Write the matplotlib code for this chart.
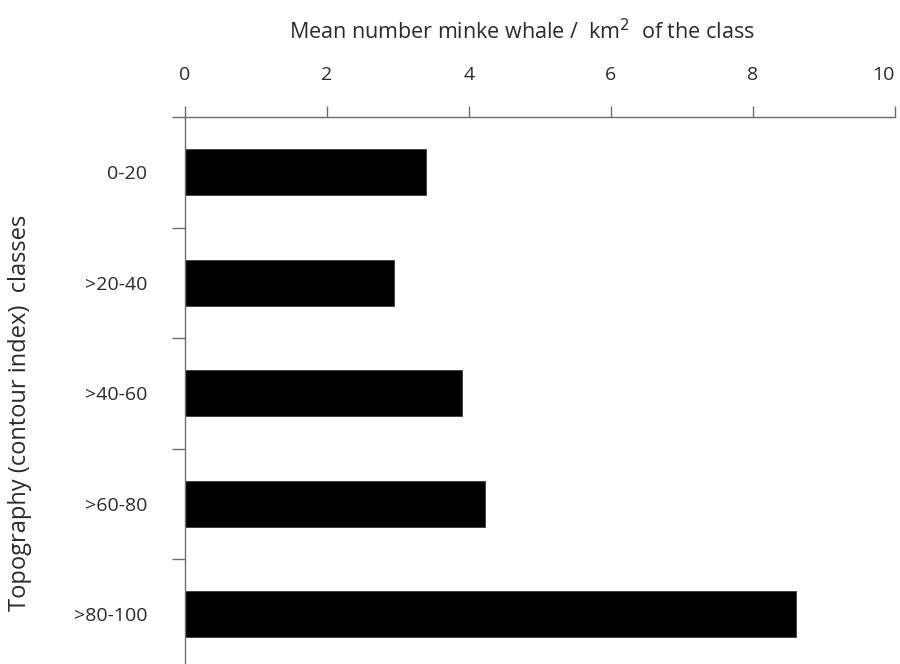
import matplotlib

matplotlib.use("Agg")
import matplotlib.pyplot as plt
from matplotlib.ticker import FixedLocator

plt.rcParams["font.family"] = ["Open Sans", "DejaVu Sans"]

CLASSES = ["0-20", ">20-40", ">40-60", ">60-80", ">80-100"]
MEAN_DENSITY = [3.40, 2.95, 3.90, 4.23, 8.60]
X_TICKS = [0, 2, 4, 6, 8, 10]

TEXT_COLOR = "#2b2b2b"
AXIS_COLOR = "#6e6e6e"

fig = plt.figure(figsize=(9, 6.64), dpi=100, facecolor="white")
ax = fig.add_axes([0.2052, 0.0, 0.7892, 0.8238])

y_pos = list(range(len(CLASSES)))
ax.barh(y_pos, MEAN_DENSITY, height=0.42, color="black", edgecolor="#3a3a3a", linewidth=0.6)

ax.set_xlim(0, 10)
ax.set_ylim(4.45, -0.5)

# x axis on top
ax.xaxis.tick_top()
ax.set_xticks(X_TICKS)
ax.tick_params(axis="x", direction="out", length=8, width=1, color=AXIS_COLOR,
               pad=16, labelsize=14, labelcolor=TEXT_COLOR)
# last label sits against the right edge, like the cropped original
ax.get_xticklabels()[-1].set_horizontalalignment("right")

# y: labels at bar centres, tick marks at class boundaries
ax.set_yticks(y_pos)
ax.set_yticklabels(CLASSES)
ax.yaxis.set_minor_locator(FixedLocator([-0.5, 0.5, 1.5, 2.5, 3.5]))
ax.tick_params(axis="y", which="major", length=0, pad=27, labelsize=14, labelcolor=TEXT_COLOR)
ax.tick_params(axis="y", which="minor", direction="out", length=9.5, width=1, color=AXIS_COLOR)

for side in ["bottom", "right"]:
    ax.spines[side].set_visible(False)
for side in ["top", "left"]:
    ax.spines[side].set_color(AXIS_COLOR)
    ax.spines[side].set_linewidth(1)

fig.text(522 / 900, 1 - 32 / 664, "Mean number minke whale /  km$^2$  of the class",
         ha="center", va="center", fontsize=15.5, color=TEXT_COLOR)
fig.text(20 / 900, 1 - 413 / 664, "Topography (contour index)  classes",
         ha="center", va="center", rotation=90, fontsize=17, color=TEXT_COLOR)

fig.savefig("out.png", dpi=100, facecolor=fig.get_facecolor())
plt.close(fig)
